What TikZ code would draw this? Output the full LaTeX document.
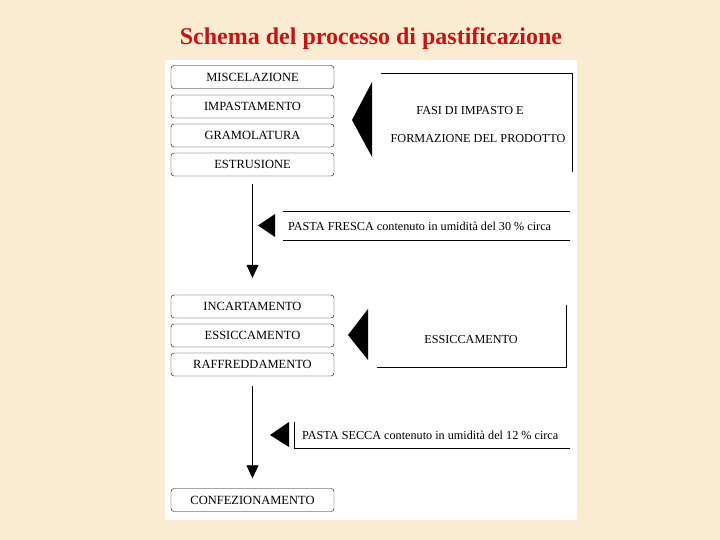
\documentclass[tikz,border=0pt]{standalone}
\usepackage{fontspec}
\setmainfont{Liberation Serif}
\usetikzlibrary{positioning,arrows.meta,calc}
\definecolor{sfondo}{HTML}{F9ECD2}
\definecolor{titolo}{HTML}{CC1111}

\begin{document}
\begin{tikzpicture}[x=1pt,y=-1pt,
    fase/.style={draw,rounded corners=3pt,minimum width=163pt,minimum height=23pt,
      inner sep=0pt,font=\fontsize{12.5}{14}\selectfont},
    nota/.style={inner sep=0pt,font=\fontsize{12.2}{14}\selectfont},
    freccia/.style={-{Triangle[length=13pt,width=12pt]},semithick},
    punta/.style={fill=black},
    riga/.style={semithick}]
  % sfondo e pannello
  \fill[sfondo] (0,0) rectangle (720,540);
  \fill[white] (165,60) rectangle (577,520);
  \node[text=titolo,font=\fontsize{24}{28}\selectfont\bfseries] (tit) at (371,39)
    {Schema del processo di pastificazione};

  % fasi di impasto
  \node[fase] (misc) at (252.5,77) {MISCELAZIONE};
  \node[fase] (impa) at (252.5,106.5) {IMPASTAMENTO};
  \node[fase] (gram) at (252.5,135.5) {GRAMOLATURA};
  \node[fase] (estr) at (252.5,164.5) {ESTRUSIONE};
  \fill[punta] (372,82) -- (352,120) -- (372,157) -- cycle;
  \draw[riga] (381,73) -- (572,73) -- (572,172);
  \node[nota] (fasi1) at (470,111) {FASI DI IMPASTO E};
  \node[nota] (fasi2) at (478,139) {FORMAZIONE DEL PRODOTTO};

  % pasta fresca
  \fill[punta] (275,214) -- (258,225.5) -- (275,237) -- cycle;
  \draw[riga] (283,211) -- (570,211);
  \draw[riga] (283,240) -- (570,240);
  \node[nota,anchor=west] (fresca) at (288,226)
    {PASTA FRESCA contenuto in umidità del 30 \% circa};

  % essiccamento
  \node[fase] (inca) at (252.5,306.5) {INCARTAMENTO};
  \node[fase] (essi) at (252.5,335.5) {ESSICCAMENTO};
  \node[fase] (raff) at (252.5,364.5) {RAFFREDDAMENTO};
  \fill[punta] (368,309) -- (348,335) -- (368,360) -- cycle;
  \draw[riga] (566,305) -- (566,367) -- (377,367);
  \node[nota] (essi2) at (471,340) {ESSICCAMENTO};

  % pasta secca
  \fill[punta] (289,422) -- (270,435) -- (289,447) -- cycle;
  \draw[riga] (294,422) -- (294,448) -- (570,448);
  \node[nota,anchor=west] (secca) at (302,435)
    {PASTA SECCA contenuto in umidità del 12 \% circa};

  \node[fase] (conf) at (252.5,500) {CONFEZIONAMENTO};

  % frecce
  \draw[freccia] ([yshift=-8pt]estr.south) -- ([yshift=17pt]inca.north);
  \draw[freccia] ([yshift=-10pt]raff.south) -- ([yshift=10pt]conf.north);
\end{tikzpicture}
\end{document}
